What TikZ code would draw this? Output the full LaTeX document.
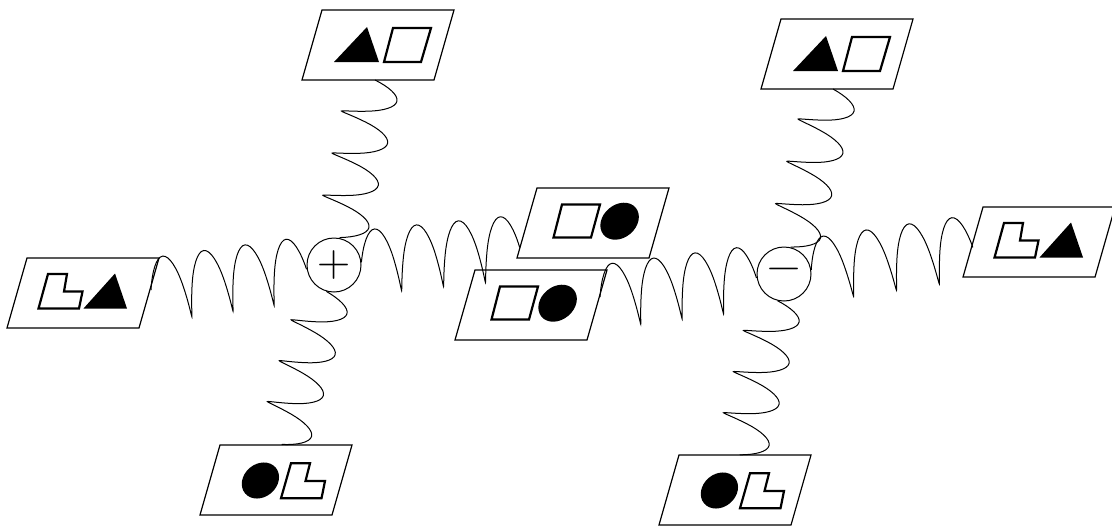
\documentclass[tikz,border=0pt]{standalone}
\usetikzlibrary{decorations.pathmorphing}
\begin{document}
\begin{tikzpicture}[x=0.5pt,y=-0.5pt,
  boxline/.style={line width=0.6pt},
  shapeline/.style={line width=1.1pt, line join=miter},
  hwave/.style={line width=0.5pt, decorate, decoration={coil, amplitude=16pt, aspect=0.18, segment length=#1}},
  vwave/.style={line width=0.5pt, decorate, decoration={coil, amplitude=13pt, aspect=0.2, segment length=#1}},
  sign/.style={circle, draw, line width=0.5pt, minimum size=27pt, inner sep=0pt, font=\fontsize{23}{23}\selectfont},
  pics/TS/.style={code={
    \draw[boxline] (0,0) -- (132,0) -- (112,70) -- (-20,70) -- cycle;
    \fill (45,17) -- (57,52) -- (12,52) -- cycle;
    \draw[shapeline] (71,18) -- (109,18) -- (99,52) -- (62,52) -- cycle;}},
  pics/LT/.style={code={
    \draw[boxline] (0,0) -- (132,0) -- (112,70) -- (-20,70) -- cycle;
    \draw[shapeline] (21,16) -- (40,16) -- (37,33.5) -- (55.5,33.5) -- (52,50.5) -- (11.5,50.5) -- cycle;
    \fill (88,15.5) -- (100,50.5) -- (56.5,50.5) -- cycle;}},
  pics/SE/.style={code={
    \draw[boxline] (0,0) -- (132,0) -- (112,70) -- (-20,70) -- cycle;
    \draw[shapeline] (25,16.5) -- (63,16.5) -- (54,49.5) -- (16.5,49.5) -- cycle;
    \fill[rotate around={40:(82.6,33.2)}] (82.6,33.2) ellipse [x radius=21, y radius=16.5];}},
  pics/EL/.style={code={
    \draw[boxline] (0,0) -- (132,0) -- (112,70) -- (-20,70) -- cycle;
    \fill[rotate around={40:(40.4,35.5)}] (40.4,35.5) ellipse [x radius=20, y radius=16.5];
    \draw[shapeline] (71,18.3) -- (90,18.3) -- (85.5,36) -- (105,36) -- (101.5,53.3) -- (61,53.3) -- cycle;}}
]
\useasboundingbox (0,0) rectangle (1112,525);
% panels
\pic (A) at (322,10) {TS};
\pic (B) at (27,258) {LT};
\pic (C) at (220,445) {EL};
\pic (D) at (537,188) {SE};
\pic (E) at (475,270) {SE};
\pic (F) at (781,19) {TS};
\pic (G) at (983,207) {LT};
\pic (H) at (679,455) {EL};
% connection points
\coordinate (Ac) at (375,80);
\coordinate (Bc) at (151,290);
\coordinate (Cc) at (282,445);
\coordinate (Dc) at (520,247);
\coordinate (Ec) at (600,297);
\coordinate (Fc) at (833,89);
\coordinate (Gc) at (973,247);
\coordinate (Hc) at (740,455);
% vertices
\node[sign] (plus) at (334,265) {+};
\node[sign] (minus) at (784,274) {−};
% wavy connectors
\draw[vwave=21.57pt] (Ac) -- (plus);
\draw[hwave=20.76pt] (Bc) -- (plus);
\draw[vwave=21.27pt] (plus) -- (Cc);
\draw[hwave=21.06pt] (plus) -- (Dc);
\draw[hwave=20.86pt] (Ec) -- (minus);
\draw[vwave=21.87pt] (Fc) -- (minus);
\draw[hwave=21.66pt] (minus) -- (Gc);
\draw[vwave=21.17pt] (minus) -- (Hc);
\end{tikzpicture}
\end{document}
